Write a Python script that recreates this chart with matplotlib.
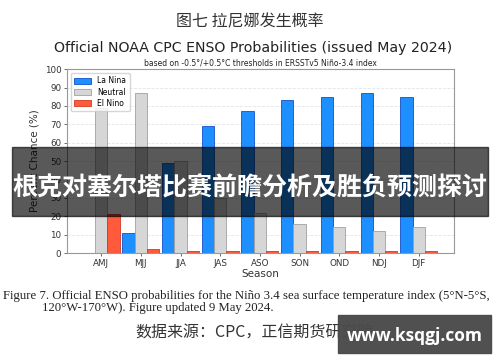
import matplotlib
matplotlib.use("Agg")
import matplotlib.pyplot as plt
import numpy as np

# Données ENSO (lecture approximative de l'image)
seasons = ["AMJ", "MJJ", "JJA", "JAS", "ASO", "SON", "OND", "NDJ", "DJF"]
la_nina = [0, 11, 49, 69, 77, 83, 85, 87, 85]
neutral = [79, 87, 50, 30, 22, 16, 14, 12, 14]
el_nino = [21, 2, 1, 1, 1, 1, 1, 1, 1]
y_ticks = [0, 10, 20, 30, 40, 50, 60, 70, 80, 90, 100]

plt.rcParams['font.family'] = ['DejaVu Sans', 'Noto Sans CJK SC']

fig = plt.figure(figsize=(5, 3.62), dpi=100)
fig.patch.set_facecolor("white")

ax = fig.add_axes([0.134, 0.301, 0.774, 0.508])
x = np.arange(len(seasons))
w = 0.31
ax.bar(x - w, la_nina, w, color="#1E8FFF", edgecolor="#1450C8", linewidth=0.6, label="La Nina")
ax.bar(x, neutral, w, color="#D6D6D6", edgecolor="#A0A0A0", linewidth=0.6, label="Neutral")
ax.bar(x + w, el_nino, w, color="#FF5A3C", edgecolor="#D03A20", linewidth=0.6, label="El Nino")

ax.set_xlim(-0.86, 8.89)
ax.set_ylim(0, 100)
ax.set_yticks(y_ticks)
ax.set_xticks(x)
ax.set_xticklabels(seasons)
ax.tick_params(labelsize=6.3, length=2, width=0.5, colors="#333333", pad=2)
ax.yaxis.grid(True, linestyle="--", color="#E4E4E4", linewidth=0.6)
ax.set_axisbelow(True)
for s in ax.spines.values():
    s.set_color("#999999")
    s.set_linewidth(0.8)
ax.set_xlabel("Season", fontsize=7.5, color="#333333", labelpad=1)
ax.set_ylabel("Percent Chance (%)", fontsize=7.5, color="#333333", labelpad=4)
ax.legend(loc="upper left", fontsize=5.5, frameon=True, edgecolor="#CCCCCC",
          handlelength=2.2, handleheight=0.8, borderpad=0.45, labelspacing=0.3)

# Titres
fig.text(0.5, 0.94, "图七 拉尼娜发生概率", ha="center", va="center", fontsize=11.5,
         family=["Noto Sans CJK SC"], color="#333333")
fig.text(0.506, 0.867, "Official NOAA CPC ENSO Probabilities (issued May 2024)",
         ha="center", va="center", fontsize=10.2, color="#222222")
fig.text(0.52, 0.826, "based on -0.5°/+0.5°C thresholds in ERSSTv5 Niño-3.4 index",
         ha="center", va="center", fontsize=5.5, color="#222222")

# Légende de la figure
fig.text(0.006, 0.182, "Figure 7. Official ENSO probabilities for the Niño 3.4 sea surface temperature index (5°N-5°S,",
         ha="left", va="center", fontsize=9.2, family=["Liberation Serif"], color="#222222")
fig.text(0.084, 0.149, "120°W-170°W). Figure updated 9 May 2024.",
         ha="left", va="center", fontsize=9.2, family=["Liberation Serif"], color="#222222")
fig.text(0.27, 0.08, "数据来源：CPC，正信期货研究院", ha="left", va="center", fontsize=11.5,
         family=["Noto Sans CJK SC"], color="#333333")

# Bandeau
fig.patches.append(plt.Rectangle((0.024, 0.403), 0.952, 0.191, transform=fig.transFigure,
                                 color="black", alpha=0.65, zorder=5))
fig.text(0.5, 0.48, "根克对塞尔塔比赛前瞻分析及胜负预测探讨", ha="center", va="center",
         fontsize=18, fontweight="bold", family=["Noto Sans CJK SC"], color="white", zorder=6)

fig.patches.append(plt.Rectangle((0.676, 0.025), 0.306, 0.105, transform=fig.transFigure,
                                 color="#4A4A4A", alpha=0.97, zorder=5))
fig.text(0.829, 0.072, "www.ksqgj.com", ha="center", va="center", fontsize=12.5,
         fontweight="bold", family=["Open Sans"], color="white", zorder=6)

fig.savefig("out.png", dpi=100)
